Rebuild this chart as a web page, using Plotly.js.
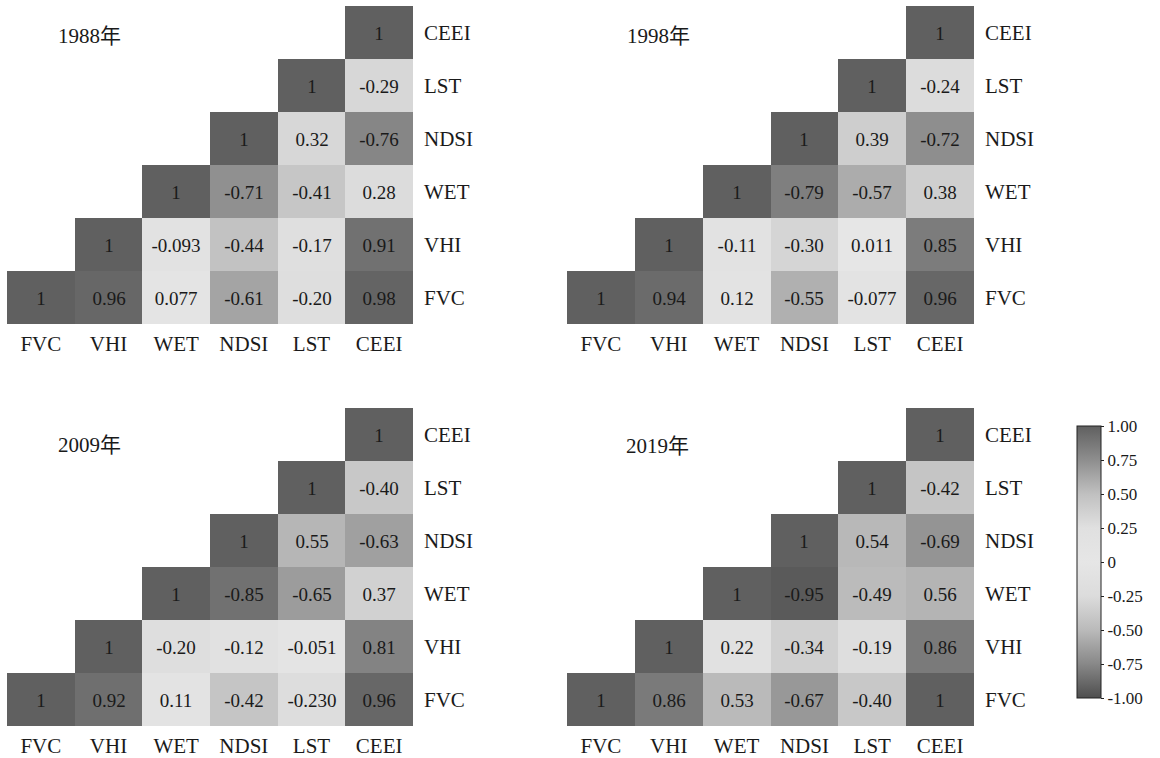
<!DOCTYPE html>
<html>
<head>
<meta charset="utf-8">
<script src="https://cdn.plot.ly/plotly-3.0.1.min.js"></script>
<style>html,body{margin:0;padding:0;background:#fff;}#chart{width:1160px;height:758px;}</style>
</head>
<body>
<div id="chart"></div>
<script>
// Variable names (x from left, y from bottom)
const vars = ['FVC', 'VHI', 'WET', 'NDSI', 'LST', 'CEEI'];
const years = ['1988年', '1998年', '2009年', '2019年'];

// Each row r starts at column r (upper triangle), values as printed
const m1988 = [
  ['1', '0.96', '0.077', '-0.61', '-0.20', '0.98'],
  ['1', '-0.093', '-0.44', '-0.17', '0.91'],
  ['1', '-0.71', '-0.41', '0.28'],
  ['1', '0.32', '-0.76'],
  ['1', '-0.29'],
  ['1']
];
const m1998 = [
  ['1', '0.94', '0.12', '-0.55', '-0.077', '0.96'],
  ['1', '-0.11', '-0.30', '0.011', '0.85'],
  ['1', '-0.79', '-0.57', '0.38'],
  ['1', '0.39', '-0.72'],
  ['1', '-0.24'],
  ['1']
];
const m2009 = [
  ['1', '0.92', '0.11', '-0.42', '-0.230', '0.96'],
  ['1', '-0.20', '-0.12', '-0.051', '0.81'],
  ['1', '-0.85', '-0.65', '0.37'],
  ['1', '0.55', '-0.63'],
  ['1', '-0.40'],
  ['1']
];
const m2019 = [
  ['1', '0.86', '0.53', '-0.67', '-0.40', '1'],
  ['1', '0.22', '-0.34', '-0.19', '0.86'],
  ['1', '-0.95', '-0.49', '0.56'],
  ['1', '0.54', '-0.69'],
  ['1', '-0.42'],
  ['1']
];
const cbTickVals = [-1, -0.75, -0.5, -0.25, 0, 0.25, 0.5, 0.75, 1];
const cbTickText = ['-1.00', '-0.75', '-0.50', '-0.25', '0', '0.25', '0.50', '0.75', '1.00'];

const matrices = [m1988, m1998, m2009, m2019];

const W = 1160, H = 758;
const serif = '"Liberation Serif", "Times New Roman", "Noto Sans CJK SC", serif';
const colorscale = [
  [0, '#4e4e4e'],
  [0.125, '#888888'],
  [0.25, '#bababa'],
  [0.375, '#dcdcdc'],
  [0.5, '#e6e6e6'],
  [0.625, '#e0e0e0'],
  [0.75, '#c0c0c0'],
  [0.875, '#8e8e8e'],
  [1, '#606060']
];

// panel pixel boxes [x0, x1, yTop, yBottom]
const boxes = [
  [7, 413, 6, 324],
  [567, 974, 6, 324],
  [7, 413, 408, 726],
  [567, 974, 408, 726]
];
const titlePos = [[56, 36], [625, 36], [56, 445], [624, 446]];

function build(mat) {
  const z = [], text = [];
  for (let r = 0; r < vars.length; r++) {
    const zr = [], tr = [];
    for (let c = 0; c < vars.length; c++) {
      if (c >= r) {
        const s = mat[r][c - r];
        zr.push(Number(s));
        tr.push(s);
      } else {
        zr.push(null);
        tr.push('');
      }
    }
    z.push(zr);
    text.push(tr);
  }
  return {z, text};
}

const data = [];
const layout = {
  width: W, height: H,
  margin: {l: 0, r: 0, t: 0, b: 0},
  paper_bgcolor: '#ffffff',
  plot_bgcolor: 'rgba(0,0,0,0)',
  showlegend: false,
  annotations: []
};

matrices.forEach((mat, k) => {
  const {z, text} = build(mat);
  const sfx = k === 0 ? '' : String(k + 1);
  const trace = {
    type: 'heatmap',
    x: vars, y: vars, z: z, text: text,
    texttemplate: '%{text}',
    textfont: {family: serif, size: 19, color: '#1a1a1a'},
    colorscale: colorscale,
    zmin: -1, zmax: 1,
    xaxis: 'x' + sfx, yaxis: 'y' + sfx,
    hoverinfo: 'skip',
    showscale: k === 3
  };
  if (k === 3) {
    trace.colorbar = {
      x: 1077 / W, xanchor: 'left',
      y: 1 - 562 / H, yanchor: 'middle',
      lenmode: 'pixels', len: 272,
      thicknessmode: 'pixels', thickness: 24,
      ypad: 0, xpad: 0,
      outlinewidth: 1, outlinecolor: '#222222',
      tickvals: cbTickVals, ticktext: cbTickText,
      ticks: 'outside', ticklen: 3, tickcolor: '#222222',
      tickfont: {family: serif, size: 17, color: '#1a1a1a'}
    };
  }
  data.push(trace);
  const b = boxes[k];
  layout['xaxis' + sfx] = {
    domain: [b[0] / W, b[1] / W],
    anchor: 'y' + sfx,
    type: 'category',
    showgrid: false, zeroline: false, showline: false, ticks: '',
    ticklabelstandoff: 5,
    tickfont: {family: serif, size: 21, color: '#1a1a1a'},
    fixedrange: true
  };
  layout['yaxis' + sfx] = {
    domain: [1 - b[3] / H, 1 - b[2] / H],
    anchor: 'x' + sfx,
    type: 'category',
    side: 'right',
    showgrid: false, zeroline: false, showline: false, ticks: '',
    ticklabelstandoff: 10,
    tickfont: {family: serif, size: 21, color: '#1a1a1a'},
    fixedrange: true
  };
  layout.annotations.push({
    xref: 'paper', yref: 'paper',
    x: titlePos[k][0] / W, y: 1 - titlePos[k][1] / H,
    xanchor: 'left', yanchor: 'middle',
    text: years[k], showarrow: false,
    font: {family: serif, size: 21, color: '#1a1a1a'}
  });
});

Plotly.newPlot('chart', data, layout, {displayModeBar: false, staticPlot: true});
</script>
</body>
</html>
